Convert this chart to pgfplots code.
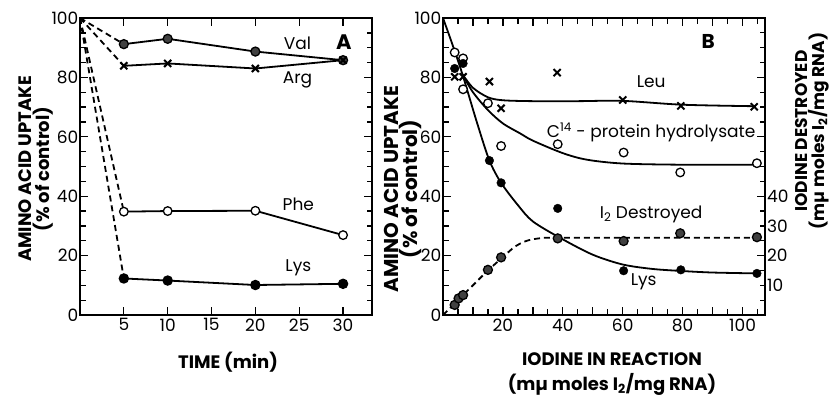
\documentclass[border=0pt]{standalone}
\usepackage{pgfplots}
\pgfplotsset{compat=1.18}
\usepackage{fontspec}
\setmainfont{Poppins}
\begin{document}
\begin{tikzpicture}
\useasboundingbox (0,0) rectangle (833pt,397pt);
% ---------------- Panel A ----------------
\begin{axis}[scale only axis, anchor=south west, at={(80pt,82pt)}, width=292pt, height=297pt,
  xmin=0, xmax=33.3, ymin=0, ymax=100,
  xtick={5,10,15,20,25,30}, xticklabels={5,10,15,20,25,30},
  ytick={0,20,40,60,80,100}, yticklabels={0,20,40,60,80,100},
  minor ytick={5,10,15,25,30,35,45,50,55,65,70,75,85,90,95},
  tick align=inside, major tick length=8pt, minor tick length=5.5pt,
  major tick style={line width=1.3pt, black}, minor tick style={line width=1.3pt, black},
  axis line style={line width=1.6pt},
  tick label style={font=\fontsize{17}{17}\selectfont},
  yticklabel style={inner sep=1.5pt}, clip=false]
\addplot[line width=1.8pt, dash pattern=on 6pt off 4pt] coordinates {(0,100) (5,91.2)};
\addplot[line width=1.8pt, dash pattern=on 6pt off 4pt] coordinates {(0,100) (5,83.9)};
\addplot[line width=1.8pt, dash pattern=on 6pt off 4pt] coordinates {(0,100) (5,34.8)};
\addplot[line width=1.8pt, dash pattern=on 6pt off 4pt] coordinates {(0,100) (5,12.3)};
\addplot[line width=1.8pt, mark=*, mark size=4.5pt, mark options={solid, fill=black!75, draw=black, line width=1.3pt}] coordinates {(5,91.2) (10,93) (20,88.7) (30,85.8)};
\addplot[line width=1.8pt, mark=x, mark size=5pt, mark options={solid, line width=2pt}] coordinates {(5,83.9) (10,84.7) (20,83.0) (30,85.8)};
\addplot[line width=1.8pt, mark=*, mark size=4.3pt, mark options={solid, fill=white, draw=black, line width=1.3pt}] coordinates {(5,34.8) (10,35.0) (20,35.1) (30,26.9)};
\addplot[line width=1.8pt, mark=*, mark size=4.3pt, mark options={solid, fill=black, draw=black}] coordinates {(5,12.3) (10,11.6) (20,10.1) (30,10.5)};
\node[font=\fontsize{17}{17}\selectfont] at (axis cs:24.8,91.5) {Val};
\node[font=\fontsize{17}{17}\selectfont] at (axis cs:24.8,79) {Arg};
\node[font=\fontsize{17}{17}\selectfont] at (axis cs:24.9,37.2) {Phe};
\node[font=\fontsize{17}{17}\selectfont] at (axis cs:24.9,16) {Lys};
\node[font=\fontsize{21}{21}\selectfont\bfseries] at (axis cs:30.1,92) {A};
\end{axis}
% ---------------- Panel B ----------------
\begin{axis}[scale only axis, anchor=south west, at={(443pt,82pt)}, width=322pt, height=297pt,
  xmin=0, xmax=107.5, ymin=0, ymax=100,
  xtick={20,40,60,80,100}, xticklabels={20,40,60,80,100},
  extra x ticks={10,30,50,70,90}, extra x tick labels={},
  minor xtick={5,15,25,35,45,55,65,75,85,95,105},
  ytick={0,20,40,60,80,100}, yticklabels={0,20,40,60,80,100},
  minor ytick={5,10,15,25,30,35,45,50,55,65,70,75,85,90,95},
  tick align=inside, major tick length=8pt, minor tick length=5.5pt,
  major tick style={line width=1.3pt, black}, minor tick style={line width=1.3pt, black},
  axis line style={line width=1.6pt},
  tick label style={font=\fontsize{17}{17}\selectfont},
  yticklabel style={inner sep=1.5pt}, clip=false]
\addplot[line width=1.8pt, smooth, tension=0.5] coordinates {(0,100) (3,91.5) (6.5,81) (11.4,64.6) (15.5,52) (19.4,44.5) (25,37) (30,31.5) (39.4,25.8) (50,20.3) (60,17) (70,15.5) (80,14.8) (90,14.3) (105,14.0)};
\addplot[line width=1.8pt, smooth, tension=0.5] coordinates {(6.5,81) (10,76.5) (15,73.3) (20,72.3) (30,72) (45,72) (60,72.1) (80,70.8) (104,70.3)};
\addplot[line width=1.8pt, smooth, tension=0.5] coordinates {(6.5,81) (10,75) (15,69) (20,64.5) (26,61) (30,58.7) (40,54.5) (48,52.3) (60,51) (80,50.6) (105,50.6)};
\addplot[line width=1.8pt, dash pattern=on 6pt off 4pt, smooth, tension=0.5] coordinates {(0,0) (5,5) (10,10) (15,15) (20,19.5) (24,23) (28,25) (33,25.9) (40,26) (105,26)};
\addplot[only marks, mark=x, mark size=5pt, mark options={solid, line width=2pt}] coordinates {(3.9,80.2) (6.7,80.2) (15.5,78.6) (19.4,69.6) (38.1,81.6) (60,72.4) (79.4,70.4) (103.9,70.1)};
\addplot[only marks, mark=*, mark size=4.3pt, mark options={solid, fill=white, draw=black, line width=1.3pt}] coordinates {(3.9,88.4) (6.7,86.4) (6.7,76) (15,71.3) (19.4,56.9) (38.3,57.5) (60.3,54.7) (79.2,48.0) (104.8,51.1)};
\addplot[only marks, mark=*, mark size=4.3pt, mark options={solid, fill=black, draw=black}] coordinates {(3.9,83.0) (6.7,84.7) (15.5,52) (19.4,44.5) (38.3,35.9) (60.3,14.9) (79.4,15.2) (104.8,14.0)};
\addplot[only marks, mark=*, mark size=4.5pt, mark options={solid, fill=black!75, draw=black, line width=1.3pt}] coordinates {(3.9,3.4) (5.2,5.6) (6.7,6.7) (15,15.2) (19.4,19.4) (38.3,25.8) (60.3,24.9) (79.2,27.5) (104.8,26.2)};
\node[font=\fontsize{17}{17}\selectfont] at (axis cs:69.5,78.5) {Leu};
\node[font=\fontsize{17}{17}\selectfont] at (axis cs:69.5,61.5) {C\textsuperscript{14} - protein hydrolysate};
\node[font=\fontsize{17}{17}\selectfont] at (axis cs:69.5,33.8) {I\textsubscript{2} Destroyed};
\node[font=\fontsize{17}{17}\selectfont] at (axis cs:67,11.2) {Lys};
\node[font=\fontsize{20}{20}\selectfont\bfseries] at (axis cs:88.5,92) {B};
\end{axis}
% right-hand labels of panel B
\begin{axis}[scale only axis, anchor=south west, at={(443pt,82pt)}, width=322pt, height=297pt,
  xmin=0, xmax=107.5, ymin=0, ymax=100, axis x line=none, axis y line*=right,
  axis line style={draw=none},
  ytick={10,20,30,40}, yticklabels={10,20,30,40}, major tick length=0pt,
  tick label style={font=\fontsize{17}{17}\selectfont},
  yticklabel style={inner sep=2pt}]
\addplot[draw=none] coordinates {(1,1)};
\end{axis}
% ---------------- Labels ----------------
\node[font=\fontsize{18}{16}\selectfont\bfseries] at (228pt,35pt) {TIME (min)};
\node[font=\fontsize{18}{16}\selectfont\bfseries] at (612pt,38pt) {IODINE IN REACTION};
\node[font=\fontsize{18}{16}\selectfont\bfseries] at (612pt,13pt) {(mµ moles I\textsubscript{2}/mg RNA)};
\node[font=\fontsize{18}{16}\selectfont\bfseries, rotate=90, align=center] at (36pt,228pt) {AMINO ACID UPTAKE\\(\% of control)};
\node[font=\fontsize{20}{17}\selectfont\bfseries, rotate=90, align=center] at (403pt,208pt) {AMINO ACID UPTAKE\\(\% of control)};
\node[font=\fontsize{17}{15}\selectfont\bfseries, rotate=90, align=center] at (812pt,266pt) {IODINE DESTROYED\\(mµ moles I\textsubscript{2}/mg RNA)};
\end{tikzpicture}
\end{document}
